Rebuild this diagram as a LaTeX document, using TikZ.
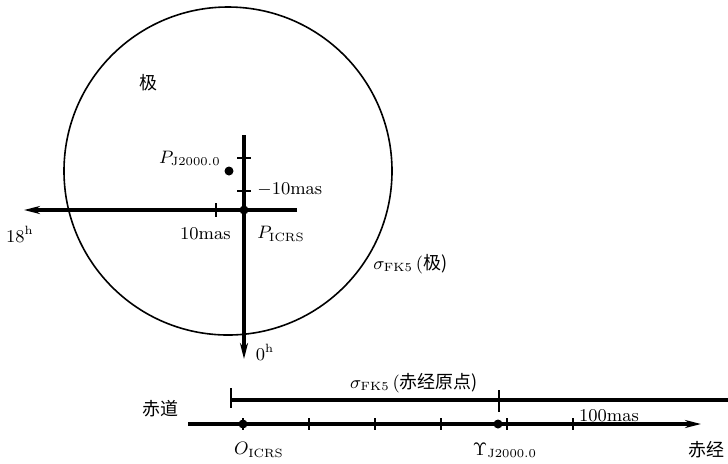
\documentclass[tikz,border=0pt]{standalone}
\usepackage{amsmath,amssymb}
\usepackage{fontspec}
\newfontfamily\cjk{Noto Sans CJK SC}
\usetikzlibrary{arrows.meta}
\usetikzlibrary{positioning}

\begin{document}
\begin{tikzpicture}[
  x=0.5pt, y=-0.5pt,
  every node/.style={font=\small, inner sep=1pt},
  axis/.style={line width=1.6pt},
  tip/.style={-{Stealth[length=8pt, width=4pt]}},
  tick/.style={line width=1pt},
  dot/.style={circle, fill, inner sep=0pt, minimum size=4.5pt}
]
\useasboundingbox (0,0) rectangle (728,463);
\coordinate (centre) at (228,171);
\draw[line width=0.8pt] (centre) circle[radius=164];

\coordinate (east) at (297,210);
\coordinate (west) at (24,210);
\coordinate (north) at (244,135);
\coordinate (south) at (244,359);
\draw[axis, tip] (east) -- (west);
\draw[axis, tip] (north) -- (south);
\foreach \y in {158,191}
  \draw[tick] (237,\y) -- (251,\y);
\draw[tick] (216,203) -- (216,217);
\node[dot] (picrsdot) at (244,210) {};
\node[dot] (pjdot) at (229,171) {};

\node[anchor=east] (pj) at (223,158) {$P_{\mathrm{J2000.0}}$};
\node[anchor=west] (minus10) at (255,190) {$-10$mas};
\node[anchor=east] (plus10) at (233,234) {10mas};
\node[anchor=west] (picrs) at (255,234) {$P_{\mathrm{ICRS}}$};
\node (h18) at (20,234) {$18^{\mathrm{h}}$};
\node (h0) at (265,352) {$0^{\mathrm{h}}$};
\node (pole) at (148,83) {\cjk 极};
\node[anchor=west] (sigpole) at (371,264) {$\sigma_{\mathrm{FK5}}$\,(\cjk 极)};

\coordinate (barstart) at (231,400);
\coordinate (barend) at (728,400);
\draw[axis] (barstart) -- (barend);
\draw[tick] (231,388) -- (231,408);
\draw[tick] (499,390) -- (499,412);
\node (sigorigin) at (414,383) {$\sigma_{\mathrm{FK5}}$\,(\cjk 赤经原点)};

\coordinate (raleft) at (188,424);
\coordinate (raright) at (701,424);
\draw[axis, tip] (raleft) -- (raright);
\foreach \k in {0,...,5}
  \draw[tick] (243+66*\k,418) -- (243+66*\k,430);
\node[dot] (oicrsdot) at (243,424) {};
\node[dot] (equinoxdot) at (498,424) {};

\node (equator) at (160,409) {\cjk 赤道};
\node (hundred) at (609,416) {100mas};
\node (oicrs) at (259,450) {$O_{\mathrm{ICRS}}$};
\node (equinox) at (505,450) {$\Upsilon_{\mathrm{J2000.0}}$};
\node[anchor=west] (ra) at (686,450) {\cjk 赤经};
\end{tikzpicture}
\end{document}
